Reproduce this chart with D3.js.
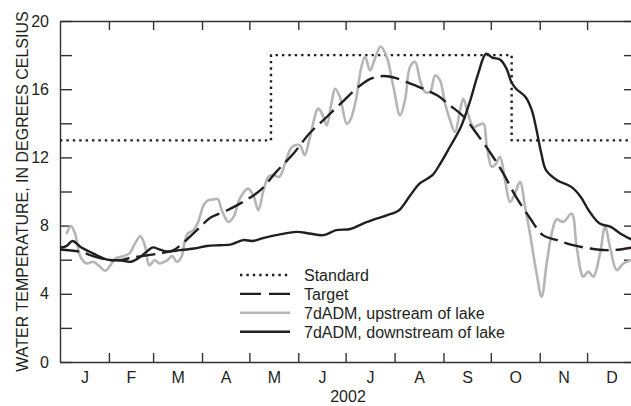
<!DOCTYPE html>
<html>
<head>
<meta charset="utf-8">
<script src="https://cdn.jsdelivr.net/npm/d3@7"></script>
<style>
  body { margin: 0; background: #fff; }
  svg text { font-family: "Liberation Sans Narrow", "Arial Narrow", "Liberation Sans", sans-serif; fill: #231f20; }
  .axis path, .axis line { stroke: #333; stroke-width: 1.4; }
</style>
</head>
<body>
<div id="chart"></div>
<script>
// water temperature, day of year 2002 -> degrees C
var standardData = [[0, 13], [133.7, 13], [133.7, 18], [286.2, 18], [286.2, 13], [365, 13]];

var targetData = [[0, 6.6], [13, 6.46], [21, 6.21], [30, 6.0], [38, 5.97], [44, 6.1], [55, 6.25], [65, 6.4],
  [72, 6.56], [80, 7.15], [89, 7.93], [95, 8.45], [106, 8.9], [116, 9.39], [127, 10.08], [137, 11.15],
  [148, 12.23], [158, 13.4], [169, 14.37], [180, 15.35], [190, 16.2], [197, 16.62], [205, 16.77],
  [213, 16.65], [222, 16.33], [230, 16.03], [239, 15.64], [247, 15.06], [256, 14.37], [264, 13.4],
  [273, 12.23], [281, 11.05], [289, 9.68], [298, 8.42], [306, 7.44], [315, 7.15], [325, 6.85],
  [336, 6.66], [346, 6.56], [355, 6.6], [365, 6.75]];

var upstreamData = [[4, 7.5], [7, 7.97], [9.5, 7.54], [13, 6.17], [17, 5.78], [21, 5.88], [25, 5.62],
  [28.5, 5.35], [32, 5.68], [35, 6.07], [39, 6.17], [44, 6.37], [47.5, 6.95], [51, 7.38], [54, 6.76],
  [56.6, 5.68], [60, 5.97], [63, 5.78], [68, 5.97], [71, 6.21], [74, 5.88], [77, 6.17], [79, 7.05],
  [81, 7.54], [84.5, 7.73], [87.6, 8.22], [91, 9.2], [94, 9.49], [97, 9.53], [100, 9.55], [102.5, 8.9],
  [106.7, 8.22], [110, 8.51], [114, 9.59], [119, 10.17], [122.5, 9.78], [125.7, 8.9], [129, 10.08],
  [132, 10.86], [135, 10.96], [139, 10.86], [142.6, 11.64], [147, 12.61], [152, 12.71], [155, 12.13],
  [158.4, 13.2], [163.7, 14.86], [167, 14.37], [169, 13.88], [172, 15.15], [174.3, 16.03],
  [177.4, 15.54], [181.7, 13.98], [184, 14.2], [188, 15.6], [190.5, 17.1], [193.3, 17.9],
  [196.5, 17.1], [199.6, 17.8], [203.2, 18.5], [207, 17.9], [211.3, 16.13], [215.5, 14.47],
  [218.6, 15.35], [221.8, 17.3], [225, 17.6], [228.2, 16.52], [231.3, 15.84], [234.5, 15.84],
  [237.7, 16.8], [240.8, 16.52], [244, 15.15], [247.2, 14.18], [250.3, 13.49], [253.5, 14.76],
  [255.6, 15.44], [258.8, 14.47], [262, 13.78], [265, 13.88], [268.3, 13.98], [270.4, 12.71],
  [273.6, 11.45], [276, 11.6], [278.8, 12.03], [282, 10.66], [285.2, 9.39], [288.3, 9.88],
  [291.5, 10.57], [294.7, 9.1], [297.8, 7.54], [302, 5.2], [305.2, 3.83], [308.4, 5.78],
  [311.6, 7.54], [314.7, 8.36], [319, 8.22], [324.2, 8.71], [327.4, 6.76], [331.6, 5.0],
  [334.8, 5.3], [338, 5.0], [342.2, 6.37], [345.4, 7.93], [348.5, 6.76], [352.8, 5.39],
  [357, 5.78], [362, 5.98], [365, 6.1]];

var downstreamData = [[0, 6.7], [4, 6.8], [8, 7.1], [13, 6.75], [21, 6.37], [30, 6.0], [38, 5.97],
  [45, 5.88], [51, 6.17], [56, 6.56], [59, 6.72], [63, 6.6], [68, 6.48], [76, 6.56], [85, 6.66],
  [93, 6.8], [101, 6.85], [108, 6.88], [116, 7.15], [122, 7.1], [128, 7.25], [137, 7.44], [150, 7.63],
  [158, 7.54], [167, 7.44], [175, 7.73], [184, 7.8], [192, 8.12], [201, 8.42], [207, 8.6], [213, 8.8],
  [216, 9.0], [222, 9.78], [228, 10.47], [236, 10.96], [241, 11.64], [247, 12.61], [254, 13.78],
  [260, 15.35], [265, 16.91], [270, 18.08], [274, 17.85], [279, 17.73], [283, 17.2], [286, 16.42],
  [289, 16.03], [295, 15.54], [299, 14.76], [302, 13.59], [305, 12.23], [308, 11.25], [315, 10.66],
  [324, 10.27], [330, 9.68], [335, 8.9], [342, 8.12], [349, 7.93], [355, 7.54], [362, 7.19], [365, 7.05]];

var monthLabels = ["J", "F", "M", "A", "M", "J", "J", "A", "S", "O", "N", "D"];
var yearLabel = "2002";
var yTicks = d3.range(0, 21, 2);

var legendItems = [
  { label: "Standard", cls: "standard" },
  { label: "Target", cls: "target" },
  { label: "7dADM, upstream of lake", cls: "upstream" },
  { label: "7dADM, downstream of lake", cls: "downstream" }
];

var styles = {
  standard: { stroke: "#231f20", width: 2.4, dash: "2.4,4" },
  target: { stroke: "#231f20", width: 2.4, dash: "19,7" },
  upstream: { stroke: "#b5b5b5", width: 2.6, dash: null },
  downstream: { stroke: "#231f20", width: 2.4, dash: null }
};

// svg params
var svgWidth = 631, svgHeight = 406;
var margin = { top: 21, right: 0, bottom: 44, left: 60 };
var chartWidth = 576;
var chartHeight = svgHeight - margin.top - margin.bottom;

var svg = d3.select("#chart").append("svg")
  .attr("width", svgWidth)
  .attr("height", svgHeight);

var chartGroup = svg.append("g")
  .attr("transform", `translate(${margin.left}, ${margin.top})`);

var start = Date.UTC(2002, 0, 1);
var end = Date.UTC(2003, 0, 1);
function toDate(day) { return new Date(start + day * 864e5); }

var xScale = d3.scaleUtc().domain([start, end]).range([0, chartWidth]);
var yScale = d3.scaleLinear().domain([0, 20]).range([chartHeight, 0]);

var monthStarts = d3.utcMonth.range(new Date(start), new Date(end));
var monthMids = monthStarts.map(function(m) {
  return new Date((+m + +d3.utcMonth.offset(m, 1)) / 2);
});

// axes with inward ticks on all four sides
chartGroup.append("g")
  .attr("class", "axis")
  .attr("transform", `translate(0, ${chartHeight})`)
  .call(d3.axisBottom(xScale).tickValues(monthStarts.slice(1)).tickSize(-9).tickSizeOuter(0).tickFormat(""));

chartGroup.append("g")
  .attr("class", "axis")
  .call(d3.axisTop(xScale).tickValues(monthStarts.slice(1)).tickSize(-9).tickSizeOuter(0).tickFormat(""));

chartGroup.append("g")
  .attr("class", "axis")
  .call(d3.axisLeft(yScale).tickValues(yTicks).tickSize(-12).tickSizeOuter(0).tickPadding(11)
    .tickFormat(function(d) { return d % 4 === 0 ? d : ""; }))
  .selectAll("text").style("font-size", "16px").attr("fill", "#231f20");

chartGroup.append("g")
  .attr("class", "axis")
  .attr("transform", `translate(${chartWidth}, 0)`)
  .call(d3.axisRight(yScale).tickValues(yTicks).tickSize(-12).tickSizeOuter(0).tickFormat(""));

// month letters centred in each month
var monthAxis = chartGroup.append("g")
  .attr("transform", `translate(0, ${chartHeight})`)
  .call(d3.axisBottom(xScale).tickValues(monthMids).tickSize(0).tickPadding(10)
    .tickFormat(function(d, i) { return monthLabels[i]; }));
monthAxis.select(".domain").remove();
monthAxis.selectAll("text").style("font-size", "16px").attr("fill", "#231f20");

chartGroup.append("text")
  .attr("x", chartWidth / 2)
  .attr("y", chartHeight + 40)
  .attr("text-anchor", "middle")
  .style("font-size", "16px")
  .text(yearLabel);

chartGroup.append("text")
  .attr("transform", `translate(-32, ${chartHeight / 2}) rotate(-90)`)
  .attr("text-anchor", "middle")
  .style("font-size", "16px")
  .text("WATER TEMPERATURE, IN DEGREES CELSIUS");

// series lines
var smooth = d3.line()
  .x(function(d) { return xScale(toDate(d[0])); })
  .y(function(d) { return yScale(d[1]); })
  .curve(d3.curveCatmullRom.alpha(0.5));

var step = d3.line()
  .x(function(d) { return xScale(toDate(d[0])); })
  .y(function(d) { return yScale(d[1]); });

function drawSeries(data, gen, st) {
  chartGroup.append("path")
    .datum(data)
    .attr("d", gen)
    .attr("fill", "none")
    .attr("stroke", st.stroke)
    .attr("stroke-width", st.width)
    .attr("stroke-dasharray", st.dash)
    .attr("stroke-linejoin", "round");
}

drawSeries(standardData, step, styles.standard);
drawSeries(upstreamData, smooth, styles.upstream);
drawSeries(targetData, smooth, styles.target);
drawSeries(downstreamData, smooth, styles.downstream);

// legend
var legend = chartGroup.append("g")
  .attr("transform", "translate(180, 254)");

legendItems.forEach(function(item, i) {
  var st = styles[item.cls];
  var row = legend.append("g").attr("transform", `translate(0, ${i * 18.9})`);
  row.append("line")
    .attr("x1", 0).attr("x2", 50)
    .attr("stroke", st.stroke)
    .attr("stroke-width", st.width)
    .attr("stroke-dasharray", item.cls === "target" ? "21,8" : st.dash);
  row.append("text")
    .attr("x", 64)
    .attr("y", 6)
    .style("font-size", "16px")
    .text(item.label);
});
</script>
</body>
</html>
